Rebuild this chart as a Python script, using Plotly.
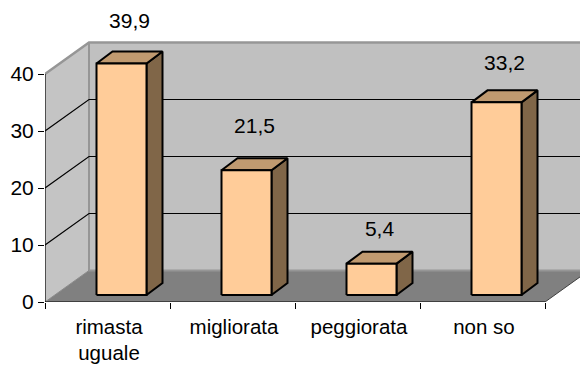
import plotly.graph_objects as go

categories = ["rimasta<br>uguale", "migliorata", "peggiorata", "non so"]
values = [39.9, 21.5, 5.4, 33.2]
value_labels = ["39,9", "21,5", "5,4", "33,2"]
y_ticks = [0, 10, 20, 30, 40]
label_gap = [29, 30, 21, 26]  # px above the bar's back top edge

W, H = 580, 367
PX_X = 125.0   # px per category
PX_Y = 5.7     # px per value unit
X0, Y0 = 45, 302
DX = 44 / PX_X  # depth of the box, in x units
DY = 31.5 / PX_Y  # depth of the box, in y units
FONT = dict(family="Liberation Sans, Arial, sans-serif", size=21, color="#000000")
XFONT = dict(family="Liberation Sans, Arial, sans-serif", size=20.5, color="#000000")

WALL, LEFT_WALL, FLOOR, EDGE = "#C0C0C0", "#C4C4C4", "#808080", "#969696"
FRONT, TOP, SIDE = "#FFCC99", "#C09A70", "#806648"

fig = go.Figure()


def poly(xs, ys, fill=None, line=None, width=2):
    if fill:
        xs, ys = xs + xs[:1], ys + ys[:1]
    fig.add_trace(go.Scatter(
        x=xs, y=ys, mode="lines", fill="toself" if fill else "none",
        fillcolor=fill, cliponaxis=False, hoverinfo="skip", showlegend=False,
        line=dict(color=line or fill, width=width if line else 0)))


n = len(categories)
top = y_ticks[-1]
# walls and floor
poly([DX, n + DX, n + DX, DX], [DY, DY, top + DY, top + DY], WALL)
poly([0, DX, DX, 0], [0, DY, top + DY, top], LEFT_WALL)
poly([0, n, n + DX, DX], [0, 0, DY, DY], FLOOR)
poly([0, DX, n + DX], [top, top + DY, top + DY], line=EDGE, width=2.5)
poly([DX, DX, n + DX], [top + DY, DY, DY], line=EDGE, width=2)
poly([0, DX], [0, DY], line="#8A8A8A", width=1)
poly([n, n + DX], [0, DY], line="#404040", width=1)
# gridlines
for t in y_ticks[1:-1]:
    poly([0, DX, n + DX], [t, t + DY, t + DY], line="#000000", width=1.2)
# axes lines
poly([0, 0], [0, top], line="#000000", width=1.2)
poly([0, n], [0, 0], line="#000000", width=1.2)

# bars
BAR_W = 0.40
BAR_DX, BAR_DY = 16 / PX_X, 12 / PX_Y
OFF_X, OFF_Y = 14 / PX_X, 7 / PX_Y
SCALE = 1.018
for i, v in enumerate(values):
    x0 = i + 0.5 - BAR_W / 2 + OFF_X
    x1 = x0 + BAR_W
    y0 = OFF_Y
    y1 = y0 + v * SCALE
    poly([x1, x1 + BAR_DX, x1 + BAR_DX, x1], [y0, y0 + BAR_DY, y1 + BAR_DY, y1], SIDE, "#000000", 2)
    poly([x0, x1, x1 + BAR_DX, x0 + BAR_DX], [y1, y1, y1 + BAR_DY, y1 + BAR_DY], TOP, "#000000", 2)
    poly([x0, x1, x1, x0], [y0, y0, y1, y1], FRONT, "#000000", 2)
    fig.add_trace(go.Scatter(
        x=[(x0 + x1 + BAR_DX) / 2], y=[y1 + BAR_DY + label_gap[i] / PX_Y],
        mode="text", text=[value_labels[i]], textposition="middle center",
        textfont=FONT, cliponaxis=False, hoverinfo="skip", showlegend=False))

fig.update_layout(
    width=W, height=H, margin=dict(l=0, r=0, t=0, b=0), autosize=False,
    paper_bgcolor="#FFFFFF", plot_bgcolor="#FFFFFF", showlegend=False, font=FONT,
    xaxis=dict(
        domain=[X0 / W, 1], range=[0, (W - X0) / PX_X], showgrid=False, zeroline=False,
        showline=False, tickmode="array", tickvals=[i + 0.512 for i in range(n)],
        ticktext=categories, ticks="", tickfont=XFONT, ticklabelstandoff=10, automargin=False,
        minor=dict(tickmode="array", tickvals=list(range(n + 1)), ticks="outside",
                   ticklen=6, tickwidth=1, tickcolor="#000000", showgrid=False),
    ),
    yaxis=dict(
        domain=[(H - Y0) / H, 1], range=[0, Y0 / PX_Y], showgrid=False, zeroline=False,
        showline=False, tickmode="array", tickvals=y_ticks, automargin=False,
        ticks="outside", ticklen=6, tickwidth=1, tickcolor="#000000", tickfont=FONT,
    ),
)
fig.write_html("out.html", post_script="document.body.style.margin='0';",
               config={"displayModeBar": False})
